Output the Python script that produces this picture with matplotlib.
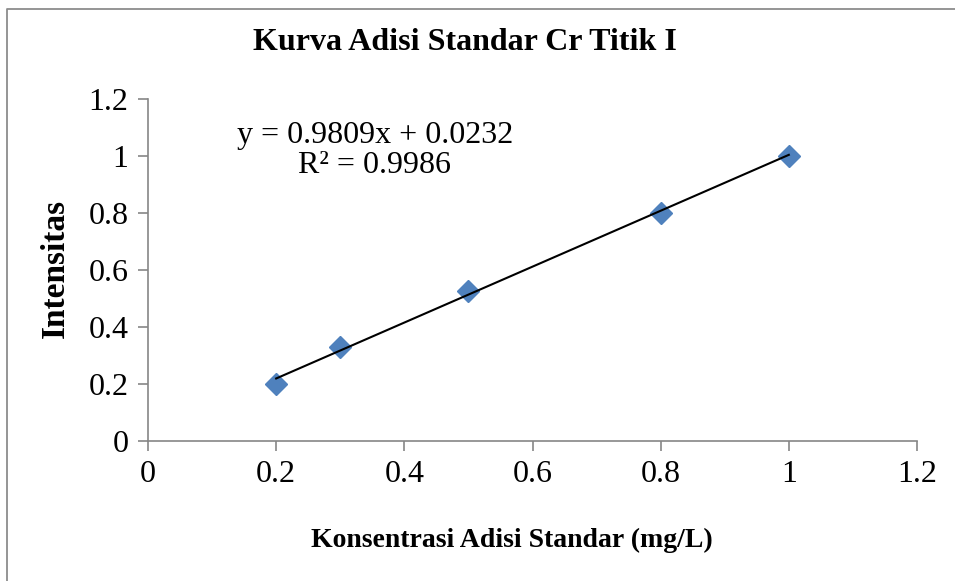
import numpy as np
import matplotlib
matplotlib.use('Agg')
import matplotlib.pyplot as plt
from matplotlib.lines import Line2D

plt.rcParams["font.family"] = ["Liberation Serif", "DejaVu Serif"]

# data
konsentrasi = [0.2, 0.3, 0.5, 0.8, 1.0]
intensitas = [0.20, 0.33, 0.525, 0.80, 1.00]
slope = 0.9809
intercept = 0.0232
r2 = 0.9986
ticks = [0, 0.2, 0.4, 0.6, 0.8, 1, 1.2]
tick_labels = ["0", "0.2", "0.4", "0.6", "0.8", "1", "1.2"]

fig = plt.figure(figsize=(9.55, 5.81), dpi=100)
ax = fig.add_axes([148/955, 1-441/581, (917-148)/955, (441-99)/581])

# chart border: only top and left edges are inside the crop
bx, by = 7/955, 1-8.5/581
fig.lines.append(Line2D([bx, bx, 1.0], [0.0, by, by], transform=fig.transFigure,
                        color="#8c8c8c", linewidth=1.3))

ax.plot(konsentrasi, intensitas, linestyle="none", marker="D", markersize=11,
        color="#4F81BD", zorder=3)
xs = np.array([min(konsentrasi), max(konsentrasi)])
ax.plot(xs, slope*xs + intercept, color="black", linewidth=1.5, zorder=4)

ax.set_xlim(0, 1.2)
ax.set_ylim(0, 1.2)
ax.set_xticks(ticks)
ax.set_xticklabels(tick_labels)
ax.set_yticks(ticks)
ax.set_yticklabels(tick_labels)

grey = "#868686"
for s in ["top", "right"]:
    ax.spines[s].set_visible(False)
for s in ["left", "bottom"]:
    ax.spines[s].set_color(grey)
    ax.spines[s].set_linewidth(1.2)
ax.tick_params(axis="both", direction="out", length=7, width=1.2, color=grey,
               labelsize=23, pad=7)

ax.text(0.354, 1.02, f"y = {slope}x + {intercept}\nR\u00b2 = {r2}", ha="center",
        va="center", fontsize=23, linespacing=1.05)

fig.text(465/955, 1-42/581, "Kurva Adisi Standar Cr Titik I", ha="center",
         va="center", fontsize=23, fontweight="bold")
fig.text(512/955, 1-540/581, "Konsentrasi Adisi Standar (mg/L)", ha="center",
         va="center", fontsize=20, fontweight="bold")
fig.text(55/955, 1-268/581, "Intensitas", ha="center", va="center",
         rotation=90, fontsize=24, fontweight="bold")

fig.savefig("out.png", dpi=100)
